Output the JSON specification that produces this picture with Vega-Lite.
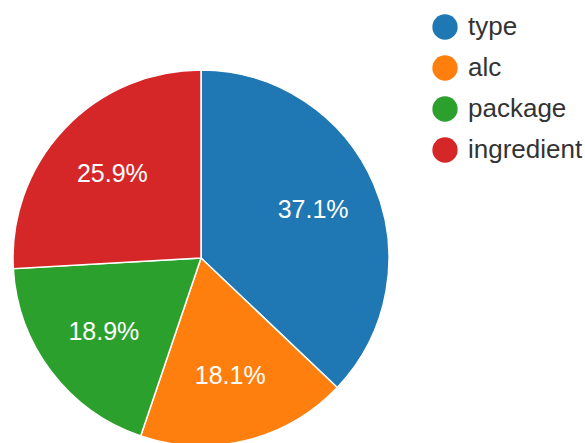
{
  "$schema": "https://vega.github.io/schema/vega-lite/v6.json",
  "width": 402,
  "height": 516,
  "padding": 0,
  "autosize": {"type": "pad"},
  "background": "white",
  "config": {"view": {"stroke": null}},
  "data": {"values": [
    {"category": "type", "share": 37.1, "idx": 1, "label": "37.1%"},
    {"category": "alc", "share": 18.1, "idx": 2, "label": "18.1%"},
    {"category": "package", "share": 18.9, "idx": 3, "label": "18.9%"},
    {"category": "ingredient", "share": 25.9, "idx": 4, "label": "25.9%"}
  ]},
  "encoding": {
    "theta": {"field": "share", "type": "quantitative", "stack": true},
    "order": {"field": "idx", "type": "quantitative"},
    "color": {
      "field": "category", "type": "nominal",
      "scale": {"domain": ["type", "alc", "package", "ingredient"], "range": ["#1f77b4", "#ff7f0e", "#2ca02c", "#d62728"]},
      "sort": ["type", "alc", "package", "ingredient"],
      "legend": {
        "title": null, "orient": "none", "legendX": 432, "legendY": 14,
        "symbolType": "circle", "symbolSize": 640, "symbolStrokeWidth": 0,
        "labelFont": "Liberation Sans", "labelFontSize": 26, "labelColor": "#333333",
        "labelOffset": 10, "rowPadding": 15
      }
    }
  },
  "layer": [
    {"mark": {"type": "arc", "outerRadius": 188, "stroke": "white", "strokeWidth": 1.5}},
    {"mark": {"type": "text", "radius": 122, "fill": "white", "font": "Liberation Sans", "fontSize": 25},
     "encoding": {"text": {"field": "label"}, "color": {"value": "white"}}}
  ]
}
